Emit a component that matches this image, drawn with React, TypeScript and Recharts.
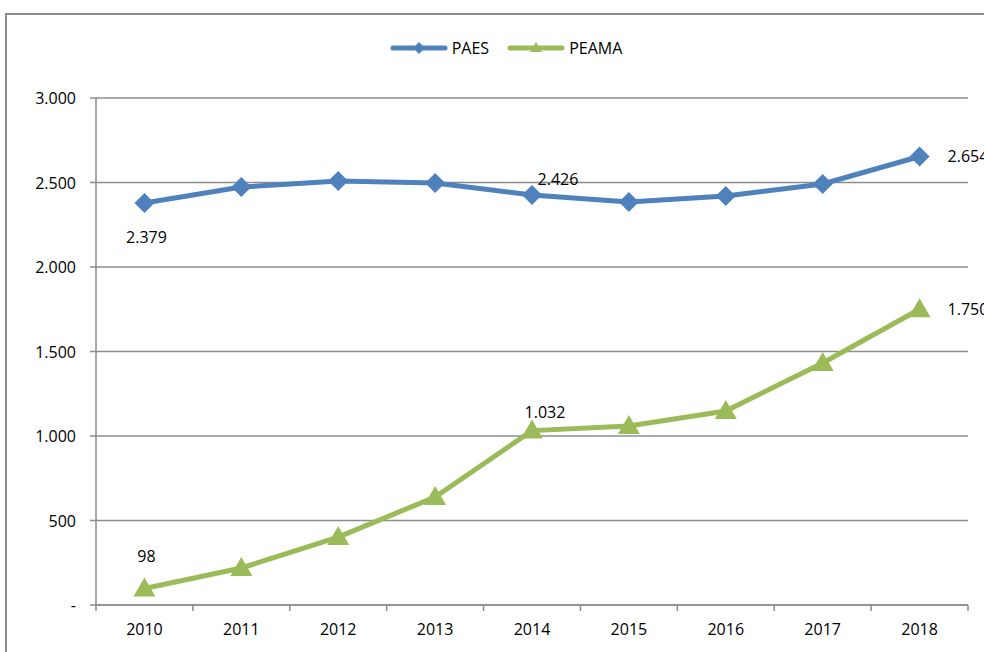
import React from "react";
import { LineChart, Line, XAxis, YAxis, CartesianGrid, LabelList } from "recharts";

const years = ["2010", "2011", "2012", "2013", "2014", "2015", "2016", "2017", "2018"];
const paes = [2379, 2473, 2509, 2497, 2426, 2385, 2420, 2491, 2654];
const peama = [98, 219, 402, 639, 1032, 1059, 1148, 1432, 1750];
const yTicks = [0, 500, 1000, 1500, 2000, 2500, 3000];
const labeledIdx = [0, 4, 8];

const data = years.map((y, i) => ({ year: y, PAES: paes[i], PEAMA: peama[i] }));

const BLUE = "#4F81BD";
const GREEN = "#9BBB59";
const GRID = "#8C8C8C";
const FONT = "'Open Sans', sans-serif";

const W = 984;
const H = 652;
const ML = 96;
const MR = 16;
const MT = 98;
const MB = 17;
const XH = 30;
const BW = (W - ML - MR) / years.length;

const fmt = (v: number) => (v === 0 ? "-" : v.toLocaleString("de-DE"));

const Diamond = (props: any) => {
  const { cx, cy } = props;
  if (cx == null || cy == null) return null;
  const r = 10;
  return <polygon points={`${cx},${cy - r} ${cx + r},${cy} ${cx},${cy + r} ${cx - r},${cy}`} fill={BLUE} />;
};

const Triangle = (props: any) => {
  const { cx, cy } = props;
  if (cx == null || cy == null) return null;
  return <polygon points={`${cx},${cy - 11} ${cx + 11},${cy + 8} ${cx - 11},${cy + 8}`} fill={GREEN} />;
};

const paesLabel = (props: any) => {
  const { x, y, value, index } = props;
  if (!labeledIdx.includes(index)) return null;
  let dx = 0, dy = 0, anchor: any = "middle";
  if (index === 0) { dx = 2; dy = 40; }
  else if (index === 4) { dx = 26; dy = -10; }
  else { dx = 28; dy = 6; anchor = "start"; }
  return (
    <text x={x + dx} y={y + dy} textAnchor={anchor} fontFamily={FONT} fontSize={16} fill="#000">
      {fmt(value)}
    </text>
  );
};

const peamaLabel = (props: any) => {
  const { x, y, value, index } = props;
  if (!labeledIdx.includes(index)) return null;
  let dx = 0, dy = 0, anchor: any = "middle";
  if (index === 0) { dx = 2; dy = -26; }
  else if (index === 4) { dx = 13; dy = -13; }
  else { dx = 28; dy = 6; anchor = "start"; }
  return (
    <text x={x + dx} y={y + dy} textAnchor={anchor} fontFamily={FONT} fontSize={16} fill="#000">
      {fmt(value)}
    </text>
  );
};

const XTick = (props: any) => {
  const { x, y, payload, index } = props;
  const axisY = y - 8;
  return (
    <g>
      <line x1={x - BW / 2} x2={x - BW / 2} y1={axisY} y2={axisY + 6} stroke={GRID} strokeWidth={1.5} />
      {index === years.length - 1 && (
        <line x1={x + BW / 2} x2={x + BW / 2} y1={axisY} y2={axisY + 6} stroke={GRID} strokeWidth={1.5} />
      )}
      <text x={x} y={axisY + 30} textAnchor="middle" fontFamily={FONT} fontSize={16} fill="#000">
        {payload.value}
      </text>
    </g>
  );
};

const YTick = (props: any) => {
  const { x, y, payload } = props;
  return (
    <text x={x - 12} y={y + 6} textAnchor="end" fontFamily={FONT} fontSize={16} fill="#000">
      {fmt(payload.value)}
    </text>
  );
};

const LegendBox = () => (
  <div style={{ position: "absolute", left: 0, top: 37, width: 1012, display: "flex", justifyContent: "center", alignItems: "center", fontFamily: FONT, fontSize: 16, color: "#000" }}>
    <svg width={58} height={20}>
      <line x1={3} x2={55} y1={10} y2={10} stroke={BLUE} strokeWidth={5} strokeLinecap="round" />
      <polygon points="29,4 35,10 29,16 23,10" fill={BLUE} />
    </svg>
    <span style={{ marginLeft: 4, marginRight: 18 }}>PAES</span>
    <svg width={58} height={20}>
      <line x1={3} x2={55} y1={10} y2={10} stroke={GREEN} strokeWidth={5} strokeLinecap="round" />
      <polygon points="29,4 35,14 23,14" fill={GREEN} />
    </svg>
    <span style={{ marginLeft: 4 }}>PEAMA</span>
  </div>
);

export default function App() {
  return (
    <div style={{ position: "absolute", left: 0, top: 0, width: W, height: H, overflow: "hidden", background: "#fff" }}>
      <div style={{ position: "absolute", left: 5, top: 13, width: 1100, height: 800, border: "2px solid #8C8C8C", boxSizing: "border-box" }} />
      <LegendBox />
      <div style={{ position: "absolute", left: 0, top: 0 }}>
        <LineChart width={W} height={H} data={data} margin={{ top: MT, right: MR, bottom: MB, left: 0 }}>
          <CartesianGrid vertical={false} stroke={GRID} strokeWidth={1.5} />
          <XAxis
            dataKey="year"
            height={XH}
            padding={{ left: BW / 2, right: BW / 2 }}
            tick={<XTick />}
            tickLine={false}
            axisLine={{ stroke: GRID, strokeWidth: 1.5 }}
            interval={0}
          />
          <YAxis
            width={ML}
            domain={[0, 3000]}
            ticks={yTicks}
            tick={<YTick />}
            tickSize={6}
            tickLine={{ stroke: GRID, strokeWidth: 1.5 }}
            axisLine={{ stroke: GRID, strokeWidth: 1.5 }}
            interval={0}
          />
          <Line dataKey="PAES" stroke={BLUE} strokeWidth={5} dot={<Diamond />} activeDot={false} isAnimationActive={false}>
            <LabelList dataKey="PAES" content={paesLabel} />
          </Line>
          <Line dataKey="PEAMA" stroke={GREEN} strokeWidth={5} dot={<Triangle />} activeDot={false} isAnimationActive={false}>
            <LabelList dataKey="PEAMA" content={peamaLabel} />
          </Line>
        </LineChart>
      </div>
    </div>
  );
}
